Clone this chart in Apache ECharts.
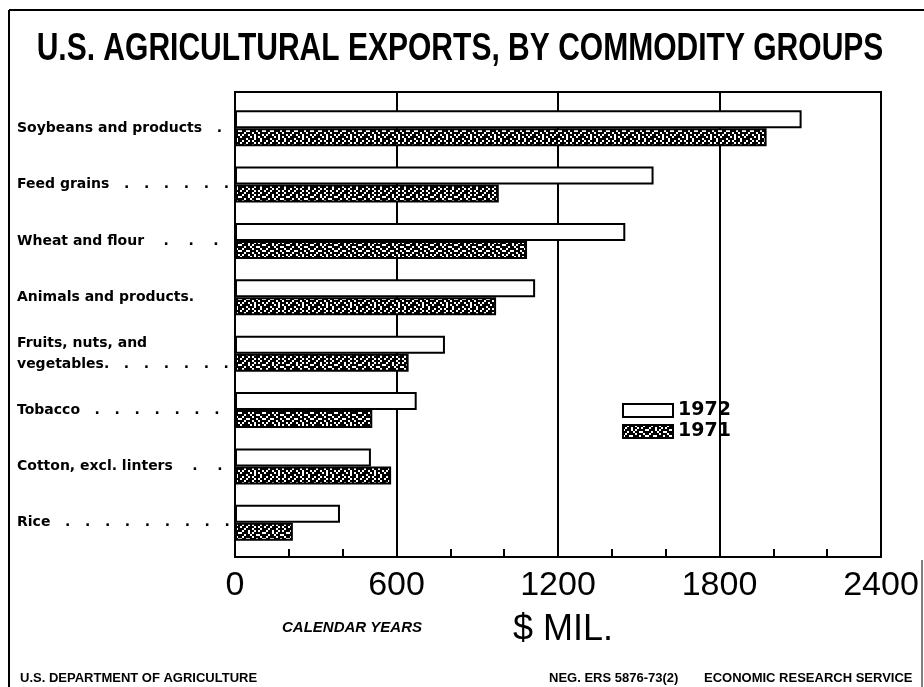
<!DOCTYPE html>
<html lang="en">
<head>
    <meta charset="UTF-8">
    <title>U.S. Agricultural Exports, by Commodity Groups</title>
    <script src="https://cdn.jsdelivr.net/npm/echarts@6/dist/echarts.min.js"></script>
    <style>
        html, body { margin: 0; padding: 0; background: #fff; }
        #main { width: 924px; height: 687px; }
    </style>
</head>
<body>
<div id="main"></div>
<script type="text/javascript">

    // 数据 (百万美元, 按图读出)
    var categories = [
        'Soybeans and products   .',
        'Feed grains   .   .   .   .   .   .',
        'Wheat and flour    .    .    .',
        'Animals and products.',
        'Fruits, nuts, and\nvegetables.   .   .   .   .   .   .',
        'Tobacco   .   .   .   .   .   .   .',
        'Cotton, excl. linters    .    .',
        'Rice   .   .   .   .   .   .   .   .   .'
    ];
    var years = ['1972', '1971'];
    var exports1972 = [2105, 1555, 1450, 1115, 780, 675, 505, 390];
    var exports1971 = [1975, 980, 1085, 970, 645, 510, 580, 215];
    var axisMin = 0;
    var axisMax = 2400;
    var axisStep = 600;

    // 1971 的网点纹理 (每格 2px)
    function makeStipple() {
        var mask = [
            '##.###.###.#',
            '#.##.##.#.##',
            '.###.#.####.',
            '##.##.##..##',
            '#.####.###.#',
            '.##..###.##.',
            '##.###.##.##',
            '#.##.##.###.',
            '.####.#.#.##',
            '###.###.##.#',
            '#.##.#.###.#',
            '.##.###.#.##'
        ];
        var n = mask.length, s = 2;
        var c = document.createElement('canvas');
        c.width = n * s;
        c.height = n * s;
        var ctx = c.getContext('2d');
        ctx.fillStyle = '#fff';
        ctx.fillRect(0, 0, c.width, c.height);
        ctx.fillStyle = '#000';
        for (var r = 0; r < n; r++) {
            for (var k = 0; k < mask[r].length; k++) {
                if (mask[r].charAt(k) === '#') ctx.fillRect(k * s, r * s, s, s);
            }
        }
        return c;
    }

    var stipple = {image: makeStipple(), repeat: 'repeat'};
    var myChart = echarts.init(document.getElementById('main'));

    var option = {
        backgroundColor: '#fff',
        animation: false,
        legend: {
            data: years,
            orient: 'vertical',
            left: 617,
            top: 396,
            itemWidth: 50,
            itemHeight: 13,
            itemGap: 2,
            icon: 'rect',
            textStyle: {fontFamily: 'DejaVu Sans', fontWeight: 'bold', fontSize: 19, lineHeight: 16, color: '#000'}
        },
        grid: [
            {left: 235, top: 92, width: 646, height: 465, show: true,
                borderColor: '#000', borderWidth: 2, backgroundColor: 'transparent'},
            {left: 235, top: 100, width: 646, height: 451}
        ],
        xAxis: [
            {
                gridIndex: 0,
                type: 'value',
                min: axisMin,
                max: axisMax,
                interval: axisStep,
                axisLine: {show: true, lineStyle: {color: '#000', width: 2}},
                axisTick: {show: true, inside: true, length: 8, lineStyle: {color: '#000', width: 2}},
                minorTick: {show: true, splitNumber: 3, length: 8, lineStyle: {color: '#000', width: 2}},
                splitLine: {show: true, lineStyle: {color: '#000', width: 2}},
                axisLabel: {
                    fontFamily: 'Liberation Sans', fontSize: 34, color: '#000', margin: 12,
                    formatter: function (v) { return String(v); }
                }
            },
            {gridIndex: 1, type: 'value', min: axisMin, max: axisMax, show: false}
        ],
        yAxis: [
            {gridIndex: 0, type: 'value', show: false},
            {
                gridIndex: 1,
                type: 'category',
                inverse: true,
                data: categories,
                axisLine: {show: false},
                axisTick: {show: false},
                axisLabel: {
                    align: 'left',
                    margin: 218,
                    fontFamily: 'DejaVu Sans',
                    fontWeight: 'bold',
                    fontSize: 14,
                    lineHeight: 21,
                    color: '#000'
                }
            }
        ],
        series: [
            {
                name: '1972',
                type: 'bar',
                xAxisIndex: 1,
                yAxisIndex: 1,
                data: exports1972,
                barWidth: 18,
                barGap: '0%',
                itemStyle: {color: '#fff', borderColor: '#000', borderWidth: 2}
            },
            {
                name: '1971',
                type: 'bar',
                xAxisIndex: 1,
                yAxisIndex: 1,
                data: exports1971,
                barWidth: 18,
                barGap: '0%',
                itemStyle: {color: stipple, borderColor: '#000', borderWidth: 2}
            }
        ],
        graphic: [
            // 外框
            {type: 'line', shape: {x1: 9, y1: 10, x2: 924, y2: 10}, style: {stroke: '#000', lineWidth: 2}},
            {type: 'line', shape: {x1: 9, y1: 10, x2: 9, y2: 687}, style: {stroke: '#000', lineWidth: 2}},
            {type: 'line', shape: {x1: 922, y1: 560, x2: 922, y2: 687}, style: {stroke: '#000', lineWidth: 1}},
            // 标题 (横向压缩)
            {type: 'text', x: 460, y: 50, scaleX: 0.79,
                style: {text: 'U.S. AGRICULTURAL EXPORTS, BY COMMODITY GROUPS', font: 'bold 38px "Liberation Sans"',
                    fill: '#000', align: 'center', verticalAlign: 'middle'}},
            {type: 'text', x: 282, y: 628, style: {text: 'CALENDAR YEARS', font: 'italic bold 15px "Liberation Sans"',
                fill: '#000', verticalAlign: 'middle'}},
            {type: 'text', x: 513, y: 630, style: {text: '$ MIL.', font: '36px "Liberation Sans"',
                fill: '#000', verticalAlign: 'middle'}},
            {type: 'text', x: 20, y: 678, style: {text: 'U.S. DEPARTMENT OF AGRICULTURE', font: 'bold 13px "Liberation Sans"',
                fill: '#000', verticalAlign: 'middle'}},
            {type: 'text', x: 549, y: 678, style: {text: 'NEG. ERS 5876-73(2)', font: 'bold 13px "Liberation Sans"',
                fill: '#000', verticalAlign: 'middle'}},
            {type: 'text', x: 704, y: 678, style: {text: 'ECONOMIC RESEARCH SERVICE', font: 'bold 13px "Liberation Sans"',
                fill: '#000', verticalAlign: 'middle'}}
        ]
    };

    myChart.setOption(option);
</script>
</body>
</html>
